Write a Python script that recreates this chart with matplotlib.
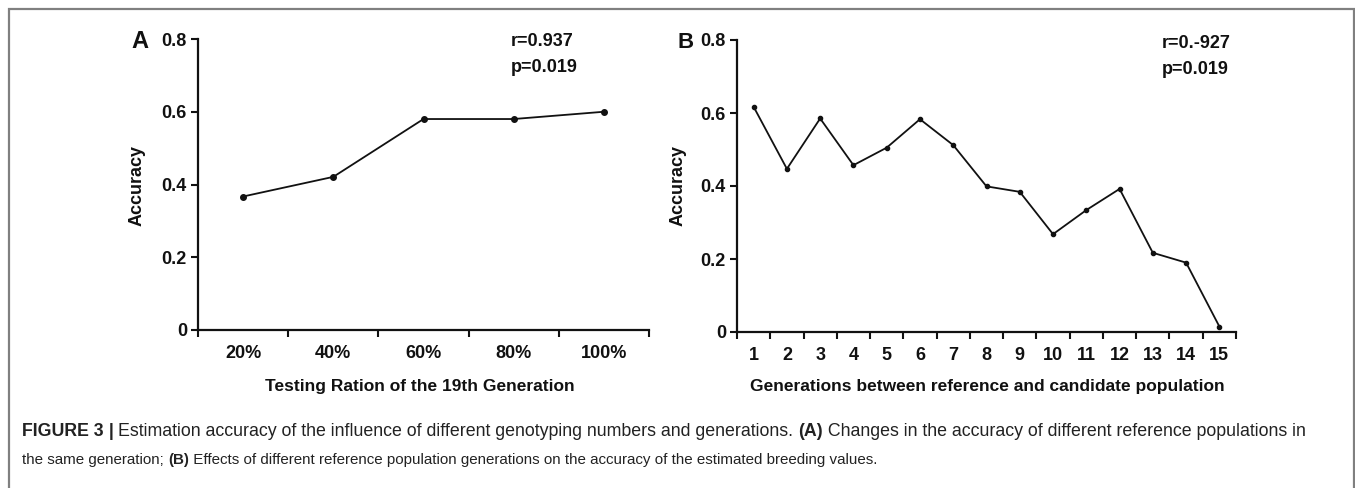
import numpy as np
import matplotlib
matplotlib.use("Agg")
import matplotlib.pyplot as plt
from matplotlib.patches import Rectangle

W, H = 1355, 488

# panel A
ratio_labels = ["20%", "40%", "60%", "80%", "100%"]
ratio_acc = [0.367, 0.421, 0.580, 0.580, 0.600]

# panel B
gen_labels = ["1", "2", "3", "4", "5", "6", "7", "8", "9", "10",
              "11", "12", "13", "14", "15"]
gen_acc = [0.617, 0.447, 0.585, 0.457, 0.505, 0.583, 0.512, 0.399,
           0.384, 0.268, 0.334, 0.392, 0.217, 0.190, 0.015]

y_ticks = [0, 0.2, 0.4, 0.6, 0.8]
y_ticklabels = ["0", "0.2", "0.4", "0.6", "0.8"]

INK = "#111111"
BOLD = dict(family="Liberation Sans", weight="bold", color=INK)


def fx(x):
    return x / W


def fy(y):
    return 1 - y / H


def panel(fig, box, labels, values, ms):
    left, top, right, bottom = box
    ax = fig.add_axes([fx(left), fy(bottom), fx(right - left), (bottom - top) / H])
    n = len(labels)
    pos = np.arange(n)
    ax.plot(pos, values, color=INK, lw=1.3, marker="o", ms=ms, clip_on=False)
    ax.set_xlim(-0.5, n - 0.5)
    ax.set_ylim(0, 0.8)

    ax.set_xticks(np.arange(n + 1) - 0.5)
    ax.set_xticklabels([])
    ax.set_xticks(pos, minor=True)
    ax.set_xticklabels(labels, minor=True, fontsize=13, **BOLD)
    ax.set_yticks(y_ticks)
    ax.set_yticklabels(y_ticklabels, fontsize=13, **BOLD)

    ax.tick_params(which="major", length=5, width=1.5, color=INK, direction="out", pad=3)
    ax.tick_params(axis="x", which="minor", length=0, pad=11)
    for s in ("top", "right"):
        ax.spines[s].set_visible(False)
    for s in ("left", "bottom"):
        ax.spines[s].set_linewidth(1.6)
        ax.spines[s].set_color(INK)
    return ax


def caption_line(fig, x0, y, pieces, size, family, target=None):
    rend = fig.canvas.get_renderer()
    drawn = []
    x = x0
    for s, bold in pieces:
        t = fig.text(fx(x), fy(y), s, fontsize=size, family=family,
                     weight="bold" if bold else "normal", color="#222222",
                     ha="left", va="center")
        drawn.append(t)
        x += t.get_window_extent(rend).width
    if target is not None:
        for t in drawn:
            t.remove()
        return caption_line(fig, x0, y, pieces, size * target / (x - x0), family)
    return x


fig = plt.figure(figsize=(W / 100, H / 100), dpi=100)

panel(fig, (198, 39, 649, 330), ratio_labels, ratio_acc, ms=4)
panel(fig, (737, 40, 1236, 332), gen_labels, gen_acc, ms=3)

# panel letters and stats
fig.text(fx(140), fy(42), "A", fontsize=17, ha="center", va="center", **BOLD)
fig.text(fx(686), fy(42), "B", fontsize=16, ha="center", va="center", **BOLD)
fig.text(fx(511), fy(41), "r=0.937", fontsize=13, ha="left", va="center", **BOLD)
fig.text(fx(511), fy(67), "p=0.019", fontsize=13, ha="left", va="center", **BOLD)
fig.text(fx(1162), fy(43), "r=0.-927", fontsize=13, ha="left", va="center", **BOLD)
fig.text(fx(1162), fy(69), "p=0.019", fontsize=13, ha="left", va="center", **BOLD)

# axis titles
fig.text(fx(137), fy(186), "Accuracy", fontsize=13, rotation=90, ha="center", va="center", **BOLD)
fig.text(fx(678), fy(186), "Accuracy", fontsize=13, rotation=90, ha="center", va="center", **BOLD)
fig.text(fx(420), fy(386), "Testing Ration of the 19th Generation", fontsize=12.5,
         ha="center", va="center", **BOLD)
fig.text(fx(987), fy(386), "Generations between reference and candidate population", fontsize=12.5,
         ha="center", va="center", **BOLD)

# caption
line1 = [("FIGURE 3", True), (" | ", True),
         ("Estimation accuracy of the influence of different genotyping numbers and generations. ", False),
         ("(A)", True),
         (" Changes in the accuracy of different reference populations in", False)]
line2 = [("the same generation; ", False), ("(B)", True),
         (" Effects of different reference population generations on the accuracy of the estimated breeding values.", False)]
caption_line(fig, 22, 432, line1, 12, ["Liberation Sans Narrow", "Liberation Sans"], target=1293)
caption_line(fig, 22, 460, line2, 10, ["Liberation Sans"], target=858)

# frame around the figure
fig.patches.append(Rectangle((fx(9), -0.05), fx(1354 - 9), fy(9) + 0.05, fill=False,
                             edgecolor="#808080", lw=1.6, transform=fig.transFigure))

fig.savefig("out.png", dpi=100)
